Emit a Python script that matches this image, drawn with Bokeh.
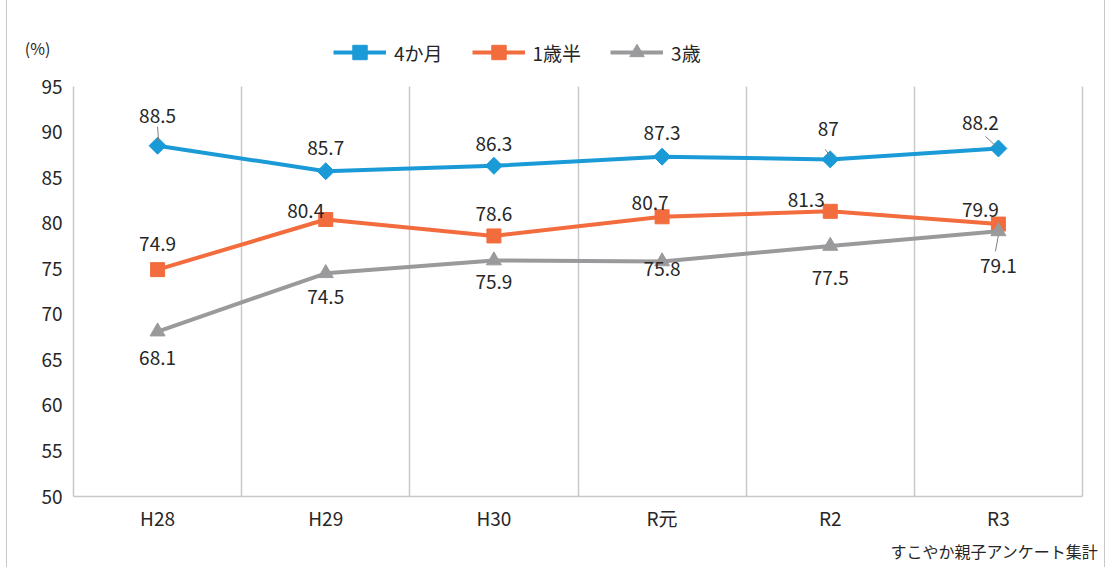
from bokeh.plotting import figure
from bokeh.models import (FixedTicker, Legend, LegendItem, ColumnDataSource,
                          LabelSet, Range1d)
from bokeh.core.properties import value
from bokeh.embed import file_html
from bokeh.resources import INLINE
import math

categories = ["H28", "H29", "H30", "R元", "R2", "R3"]
series_names = ["4か月", "1歳半", "3歳"]
v_4m = [88.5, 85.7, 86.3, 87.3, 87.0, 88.2]
v_18m = [74.9, 80.4, 78.6, 80.7, 81.3, 79.9]
v_3y = [68.1, 74.5, 75.9, 75.8, 77.5, 79.1]
label_4m = ["88.5", "85.7", "86.3", "87.3", "87", "88.2"]
label_18m = ["74.9", "80.4", "78.6", "80.7", "81.3", "79.9"]
label_3y = ["68.1", "74.5", "75.9", "75.8", "77.5", "79.1"]
y_ticks = [50, 55, 60, 65, 70, 75, 80, 85, 90, 95]
y_min, y_max = 50, 95
source_note = "すこやか親子アンケート集計"

FONT = "Noto Sans CJK JP"
FS = "19px"
BLUE = "#1a9ad6"
ORANGE = "#f26c3e"
GREY = "#9a9a9c"
TXT = "#262626"
GRID = "#c8c8c8"

W, H = 1099, 567
n = len(categories)
px_per_x = 1009 / n
px_per_y = 410 / (y_max - y_min)
top_room = 46    # px of frame above the 95 line (legend area)
right_room = 16  # px of frame right of the last category boundary
p = figure(width=W, height=H, output_backend="svg", toolbar_location=None,
           x_range=Range1d(0, n + right_room / px_per_x),
           y_range=Range1d(y_min, y_max + top_room / px_per_y),
           min_border_left=66, min_border_right=8, min_border_top=40, min_border_bottom=71)
p.outline_line_color = None
p.background_fill_color = "white"
p.styles = {"margin-left": "6px", "border-left": "1px solid #c8c8c8",
            "border-right": "1px solid #c8c8c8"}

xs = [i + 0.5 for i in range(n)]

# axes
for ax in (p.xaxis, p.yaxis):
    ax.major_tick_line_color = None
    ax.minor_tick_line_color = None
    ax.major_tick_out = 0
    ax.major_tick_in = 0
    ax.minor_tick_out = 0
    ax.axis_line_color = GRID
    ax.axis_line_width = 1.5
    ax.major_label_text_font = FONT
    ax.major_label_text_font_size = FS
    ax.major_label_text_color = TXT
    ax.axis_label_text_font = FONT
    ax.axis_label_text_font_size = "16px"
    ax.axis_label_text_font_style = "normal"
    ax.axis_label_text_color = TXT

p.xaxis.ticker = FixedTicker(ticks=xs)
p.xaxis.bounds = (0, n)
p.xaxis.major_label_overrides = {x: c for x, c in zip(xs, categories)}
p.xaxis.major_label_standoff = 7
# label is centred on the frame end: pad with ideographic spaces so the text ends there
p.xaxis.axis_label = source_note + "\u3000" * len(source_note)
p.xaxis.axis_label_align = "end"
p.xaxis.axis_label_standoff = 5

p.yaxis.ticker = FixedTicker(ticks=y_ticks)
p.yaxis.bounds = (y_min, y_max)
p.yaxis.major_label_standoff = 11
p.yaxis.axis_label = "\n(%)"
p.yaxis.axis_label_text_line_height = 0.6
p.yaxis.axis_label_orientation = "horizontal"
p.yaxis.axis_label_align = "end"
p.yaxis.axis_label_standoff = -12

p.ygrid.grid_line_color = None
p.xgrid.ticker = FixedTicker(ticks=list(range(1, n + 1)))
p.xgrid.cross_bounds = (y_min, y_max)
p.xgrid.grid_line_color = GRID
p.xgrid.grid_line_width = 1.5

# series
r1l = p.line(xs, v_4m, line_color=BLUE, line_width=4)
r1m = p.scatter(xs, v_4m, marker="square", size=12, angle=math.pi / 4,
                fill_color=BLUE, line_color=BLUE)
r2l = p.line(xs, v_18m, line_color=ORANGE, line_width=4)
r2m = p.scatter(xs, v_18m, marker="square", size=14, fill_color=ORANGE, line_color=ORANGE)
r3l = p.line(xs, v_3y, line_color=GREY, line_width=4)
r3m = p.scatter(xs, v_3y, marker="triangle", size=15, fill_color=GREY, line_color=GREY)

# data labels (pixel offsets from points, +y = up)
off_4m = [(0, 30), (0, 23), (0, 22), (0, 24), (-2, 30), (-18, 25)]
off_18m = [(0, 26), (-20, 9), (0, 22), (-12, 14), (-24, 11), (-18, 14)]
off_3y = [(0, -26), (0, -24), (0, -21), (0, -8), (0, -32), (0, -35)]

for vals, labs, offs in [(v_4m, label_4m, off_4m), (v_18m, label_18m, off_18m), (v_3y, label_3y, off_3y)]:
    src = ColumnDataSource(dict(x=xs, y=vals, t=labs,
                                dx=[o[0] for o in offs], dy=[o[1] for o in offs]))
    p.add_layout(LabelSet(x="x", y="y", text="t", source=src, x_offset="dx", y_offset="dy",
                          text_align="center", text_baseline="middle",
                          text_font=value(FONT), text_font_size=value(FS),
                          text_color=TXT))

# leader lines (pixel offsets converted to data)
leaders = [  # (values, index, start px offset (dx, dy up), end px offset)
    (v_4m, 0, (0, 19), (1, 5)),
    (v_4m, 4, (-5, 10), (0, 3)),
    (v_4m, 5, (-13, 12), (-2, 2)),
    (v_3y, 5, (-3, -20), (0, -4)),
]
for vals, i, a, b in leaders:
    p.line([xs[i] + a[0] / px_per_x, xs[i] + b[0] / px_per_x],
           [vals[i] + a[1] / px_per_y, vals[i] + b[1] / px_per_y],
           line_color="#7f7f7f", line_width=1)

# legend
legend = Legend(items=[LegendItem(label=series_names[0], renderers=[r1l, r1m]),
                       LegendItem(label=series_names[1], renderers=[r2l, r2m]),
                       LegendItem(label=series_names[2], renderers=[r3l, r3m])],
                orientation="horizontal", location=(260, 426),
                label_text_font=FONT, label_text_font_size=FS, label_text_color=TXT,
                glyph_width=53, glyph_height=36, spacing=29, label_standoff=8,
                border_line_color=None, background_fill_alpha=0, padding=0, margin=0)
p.add_layout(legend, "center")

open("out.html", "w").write(file_html(p, INLINE))
